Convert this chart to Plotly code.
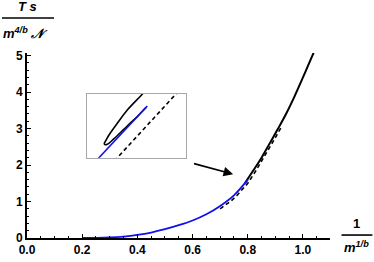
import plotly.graph_objects as go

# ---- main data ----
blue_x = [0.20, 0.25, 0.30, 0.35, 0.40, 0.45, 0.50, 0.55, 0.60, 0.65, 0.70, 0.75, 0.80]
blue_y = [0.0, 0.004, 0.015, 0.04, 0.085, 0.15, 0.24, 0.35, 0.48, 0.65, 0.88, 1.17, 1.60]

black_x = [0.79, 0.80, 0.82, 0.85, 0.88, 0.91, 0.94, 0.97, 1.00, 1.02, 1.04]
black_y = [1.50, 1.62, 1.85, 2.20, 2.60, 3.00, 3.42, 3.89, 4.40, 4.75, 5.10]

dash_x = [0.70, 0.72, 0.74, 0.76, 0.78, 0.80, 0.83, 0.86, 0.90, 0.92]
dash_y = [0.80, 0.91, 1.02, 1.16, 1.32, 1.50, 1.85, 2.22, 2.75, 3.02]

x_ticks = [0.0, 0.2, 0.4, 0.6, 0.8, 1.0]
x_ticklabels = ["0.0", "0.2", "0.4", "0.6", "0.8", "1.0"]
y_ticks = [0, 1, 2, 3, 4, 5]
y_ticklabels = ["0", "1", "2", "3", "4", "5"]

# arrow (tail -> head), data coords
arrow_tail = (0.600, 2.05)
arrow_head = (0.747, 1.75)

# ---- inset data (zoomed local coordinates) ----
in_blue_x = [0.094, 0.612]
in_blue_y = [-0.05, 0.812]
in_black_x = [0.585, 0.562, 0.41, 0.309, 0.225, 0.19, 0.178, 0.185, 0.208, 0.276, 0.377, 0.45, 0.511, 0.56, 0.60]
in_black_y = [1.05, 1.0, 0.749, 0.54, 0.356, 0.26, 0.225, 0.205, 0.21, 0.30, 0.45, 0.56, 0.645, 0.727, 0.79]
in_dash_x = [0.28, 0.93]
in_dash_y = [-0.05, 1.05]

fig = go.Figure()

fig.add_trace(go.Scatter(x=dash_x, y=dash_y, mode="lines",
                         line=dict(color="black", width=1.6, dash="4px,3px"),
                         xaxis="x", yaxis="y"))
fig.add_trace(go.Scatter(x=black_x, y=black_y, mode="lines",
                         line=dict(color="black", width=2, shape="spline"),
                         xaxis="x", yaxis="y"))
fig.add_trace(go.Scatter(x=blue_x, y=blue_y, mode="lines",
                         line=dict(color="#1010ee", width=1.8, shape="spline"),
                         xaxis="x", yaxis="y"))

# inset traces
fig.add_trace(go.Scatter(x=in_dash_x, y=in_dash_y, mode="lines",
                         line=dict(color="black", width=1.6, dash="4px,3px"),
                         xaxis="x2", yaxis="y2"))
fig.add_trace(go.Scatter(x=in_black_x, y=in_black_y, mode="lines",
                         line=dict(color="black", width=1.6, shape="spline"),
                         xaxis="x2", yaxis="y2"))
fig.add_trace(go.Scatter(x=in_blue_x, y=in_blue_y, mode="lines",
                         line=dict(color="#1010ee", width=1.6),
                         xaxis="x2", yaxis="y2"))

tickfont = dict(family="Liberation Sans, Arial, sans-serif", size=12, color="black", weight="bold")

fig.update_layout(
    width=374, height=262,
    margin=dict(l=27, r=44, t=53, b=24),
    paper_bgcolor="white", plot_bgcolor="white",
    showlegend=False,
    xaxis=dict(range=[0, 1.098], showgrid=False, zeroline=False, automargin=False,
               showline=True, linecolor="black", linewidth=2,
               ticks="inside", ticklen=4, tickwidth=1.2, tickcolor="black",
               tickvals=x_ticks, ticktext=x_ticklabels, tickfont=tickfont,
               minor=dict(dtick=0.05, tick0=0, ticks="inside", ticklen=2, tickwidth=1, tickcolor="black"),
               domain=[0, 1]),
    yaxis=dict(range=[0, 5.07], showgrid=False, zeroline=False, automargin=False,
               showline=True, linecolor="black", linewidth=2,
               ticks="inside", ticklen=4, tickwidth=1.2, tickcolor="black",
               tickvals=y_ticks, ticktext=y_ticklabels, tickfont=tickfont,
               minor=dict(dtick=0.2, tick0=0, ticks="inside", ticklen=2, tickwidth=1, tickcolor="black"),
               domain=[0, 1]),
    xaxis2=dict(domain=[0.197, 0.524], anchor="y2", range=[0, 1], automargin=False,
                showgrid=False, zeroline=False, showticklabels=False, ticks="",
                showline=True, mirror=True, linecolor="#a8a8a8", linewidth=1),
    yaxis2=dict(domain=[0.434, 0.778], anchor="x2", range=[0, 1], automargin=False,
                showgrid=False, zeroline=False, showticklabels=False, ticks="",
                showline=True, mirror=True, linecolor="#a8a8a8", linewidth=1),
)

# inset white background
fig.add_shape(type="rect", xref="x2 domain", yref="y2 domain", x0=0, x1=1, y0=0, y1=1,
              fillcolor="white", line=dict(width=0), layer="below")

# arrow
fig.add_annotation(x=arrow_head[0], y=arrow_head[1], ax=arrow_tail[0], ay=arrow_tail[1],
                   xref="x", yref="y", axref="x", ayref="y", text="",
                   showarrow=True, arrowhead=2, arrowsize=1.2, arrowwidth=1.6,
                   arrowcolor="black", standoff=0)

labfont = dict(family="Liberation Sans, Arial, sans-serif", size=13, color="black", weight="bold")

# y-axis label (fraction)
fig.add_annotation(x=0.0033, y=1.249, xref="paper", yref="paper", text="<i>T s</i>",
                   showarrow=False, font=labfont, xanchor="center", yanchor="middle")
fig.add_shape(type="line", xref="paper", yref="paper", x0=-0.0825, x1=0.089, y0=1.189, y1=1.189,
              line=dict(color="black", width=1.6))
fig.add_annotation(x=-0.0066, y=1.108, xref="paper", yref="paper",
                   text="<i>m</i><sup><i>4/b</i></sup> <i>𝒩</i>",
                   showarrow=False, font=labfont, xanchor="center", yanchor="middle")

# x-axis label (fraction)
fig.add_annotation(x=1.089, y=0.081, xref="paper", yref="paper", text="1",
                   showarrow=False, font=labfont, xanchor="center", yanchor="middle")
fig.add_shape(type="line", xref="paper", yref="paper", x0=1.038, x1=1.140, y0=0.016, y1=0.016,
              line=dict(color="black", width=1.6))
fig.add_annotation(x=1.086, y=-0.049, xref="paper", yref="paper",
                   text="<i>m</i><sup><i>1/b</i></sup>",
                   showarrow=False, font=labfont, xanchor="center", yanchor="middle")

fig.write_html("out.html", config={"displayModeBar": False},
               post_script="document.body.style.margin='0';document.body.style.overflow='hidden';")
